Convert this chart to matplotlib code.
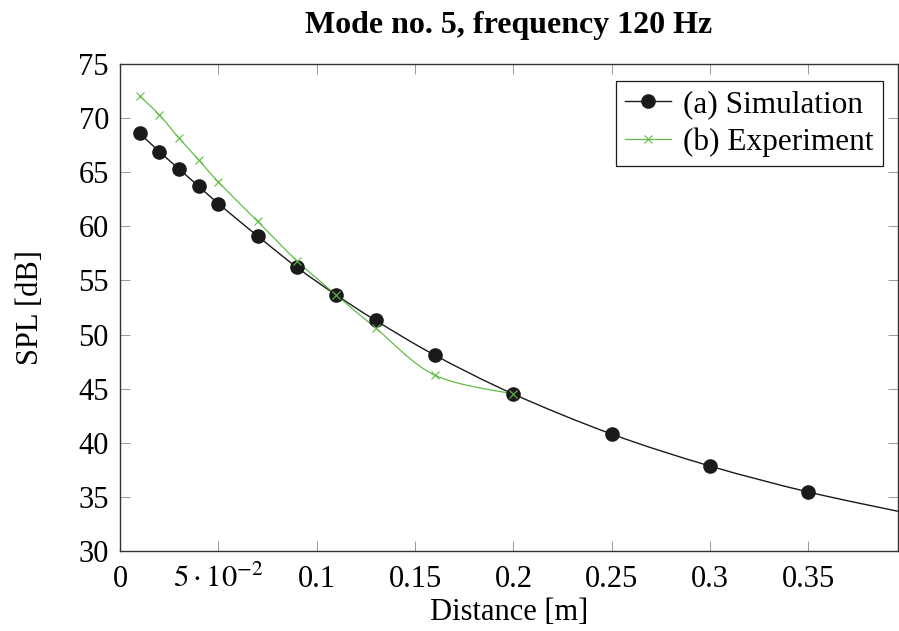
import matplotlib
matplotlib.use("Agg")
import matplotlib.pyplot as plt
from matplotlib.path import Path
from matplotlib.patches import PathPatch
from matplotlib.lines import Line2D
import numpy as np

# ---- data ----
sim_x = [0.01, 0.02, 0.03, 0.04, 0.05, 0.07, 0.09, 0.11, 0.13, 0.16, 0.20, 0.25, 0.30, 0.35]
sim_y = [68.6, 66.9, 65.3, 63.7, 62.1, 59.1, 56.2, 53.65, 51.3, 48.1, 44.5, 40.8, 37.85, 35.45]
sim_tail_x = [0.40]
sim_tail_y = [33.5]

exp_x = [0.01, 0.02, 0.03, 0.04, 0.05, 0.07, 0.09, 0.11, 0.13, 0.16, 0.20]
exp_y = [72.05, 70.3, 68.15, 66.15, 64.1, 60.45, 56.8, 53.65, 50.6, 46.25, 44.5]

x_ticks = [0, 0.05, 0.1, 0.15, 0.2, 0.25, 0.3, 0.35]
x_ticklabels = ["0", r"$5\cdot10^{-2}$", "0.1", "0.15", "0.2", "0.25", "0.3", "0.35"]
y_ticks = [30, 35, 40, 45, 50, 55, 60, 65, 70, 75]

title = "Mode no. 5, frequency 120 Hz"
xlabel = "Distance [m]"
ylabel = "SPL [dB]"
labels = ["(a) Simulation", "(b) Experiment"]

GREEN = "#62bd45"

plt.rcParams["font.family"] = ["Liberation Serif", "DejaVu Serif"]
plt.rcParams["mathtext.fontset"] = "stix"
FS = 22


def smooth_path(xs, ys):
    pts = np.column_stack([xs, ys]).astype(float)
    n = len(pts)
    verts = [pts[0]]
    codes = [Path.MOVETO]
    for i in range(n - 1):
        p0 = pts[i - 1] if i > 0 else pts[i]
        p1 = pts[i]
        p2 = pts[i + 1]
        p3 = pts[i + 2] if i + 2 < n else pts[i + 1]
        c1 = p1 + (p2 - p0) / 6.0
        c2 = p2 - (p3 - p1) / 6.0
        verts += [c1, c2, p2]
        codes += [Path.CURVE4] * 3
    return Path(verts, codes)


fig = plt.figure(figsize=(8.99, 6.31), dpi=100)
ax = fig.add_axes([120 / 899, 1 - 551 / 631, 778 / 899, 487 / 631])

# simulation curve
p = smooth_path(sim_x + sim_tail_x, sim_y + sim_tail_y)
ax.add_patch(PathPatch(p, facecolor="none", edgecolor="#1a1a1a", lw=1.0, zorder=2))
# experiment curve
p2 = smooth_path(exp_x, exp_y)
ax.add_patch(PathPatch(p2, facecolor="none", edgecolor=GREEN, lw=0.9, zorder=3))

ax.plot(sim_x, sim_y, ls="none", marker="o", ms=9.5, color="#1a1a1a", zorder=4)
ax.plot(exp_x, exp_y, ls="none", marker="x", ms=5.5, mew=0.8, color=GREEN, zorder=5)

ax.set_xlim(0, 0.3955)
ax.set_ylim(30, 75)
ax.set_xticks(x_ticks)
ax.set_xticklabels(x_ticklabels)
ax.set_yticks(y_ticks)

for s in ax.spines.values():
    s.set_color("#333333")
    s.set_linewidth(1.0)

ax.tick_params(direction="in", length=7, width=0.7, color="#999999",
               top=True, right=True, labelsize=FS)
ax.tick_params(axis="x", pad=10)
ax.tick_params(axis="y", pad=8)

ax.set_title(title, fontsize=23, fontweight="bold", pad=22)
ax.set_xlabel(xlabel, fontsize=FS, labelpad=3)
ax.set_ylabel(ylabel, fontsize=FS, labelpad=24)

handles = [
    Line2D([], [], color="#1a1a1a", lw=1.0, marker="o", ms=9.5),
    Line2D([], [], color=GREEN, lw=0.9, marker="x", ms=5.5, mew=0.8),
]
leg = ax.legend(handles, labels, loc="upper right",
                bbox_to_anchor=((883 - 120) / 778, (551 - 81) / 487),
                borderaxespad=0, fontsize=22.5, fancybox=False, framealpha=1,
                edgecolor="#1a1a1a", handlelength=1.45, handletextpad=0.4,
                labelspacing=0.25, borderpad=0.3)
leg.get_frame().set_linewidth(0.9)

fig.savefig("out.png", dpi=100)
